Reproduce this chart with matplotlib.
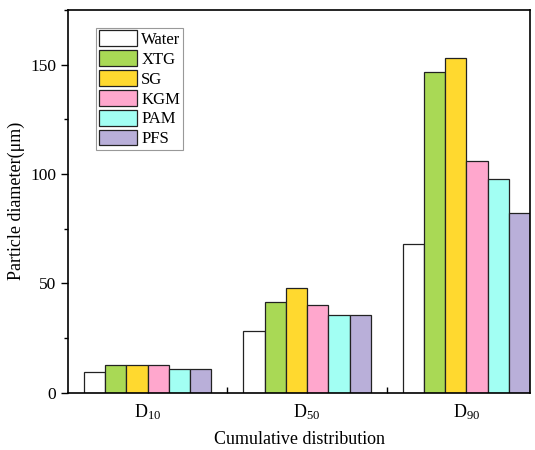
import numpy as np
import matplotlib
matplotlib.use("Agg")
import matplotlib.pyplot as plt
from matplotlib.ticker import MultipleLocator, FixedLocator

plt.rcParams['font.family'] = ['Liberation Serif', 'DejaVu Serif']
plt.rcParams['mathtext.fontset'] = 'custom'
plt.rcParams['mathtext.rm'] = 'Liberation Serif'
plt.rcParams['mathtext.it'] = 'Liberation Serif:italic'

# 粒径累计分布数据
groups = ['D$_{10}$', 'D$_{50}$', 'D$_{90}$']
samples = ['Water', 'XTG', 'SG', 'KGM', 'PAM', 'PFS']
water = [9.6, 28.4, 67.9]
xtg = [12.6, 41.5, 146.8]
sg = [12.6, 47.8, 152.9]
kgm = [12.8, 40.0, 105.9]
pam = [11.0, 35.5, 97.9]
pfs = [10.7, 35.6, 82.4]
colors = ['#FFFFFF', '#A9D955', '#FFD92F', '#FFA7CD', '#A2FFF3', '#B9AFD9']

series = [water, xtg, sg, kgm, pam, pfs]
x = np.arange(len(groups))
w = 0.8 / len(samples)

fig = plt.figure(figsize=(5.35, 4.5), dpi=100)
ax = fig.add_axes([0.127, 0.127, 0.864, 0.851])

for i, (vals, name) in enumerate(zip(series, samples)):
    ax.bar(x - 0.4 + w * (i + 0.5), vals, w, color=colors[i], edgecolor='#222222',
           linewidth=0.9, label=name, zorder=3)

ax.set_xlim(-0.5, 2.4)
ax.set_ylim(0, 175)
ax.set_xticks(x)
ax.set_xticklabels(groups, fontsize=13)
ax.xaxis.set_minor_locator(FixedLocator([0.5, 1.5]))
ax.tick_params(axis='x', which='both', direction='in', length=4, width=1, pad=7)
ax.yaxis.set_major_locator(MultipleLocator(50))
ax.yaxis.set_minor_locator(MultipleLocator(25))
ax.tick_params(axis='y', which='major', direction='out', length=5, width=1, labelsize=12.5)
ax.tick_params(axis='y', which='minor', direction='out', length=3, width=1)
for s in ax.spines.values():
    s.set_linewidth(1.2)
    s.set_zorder(4)

ax.set_xlabel('Cumulative distribution', fontsize=13, labelpad=6)
ax.set_ylabel('Particle diameter(μm)', fontsize=13, labelpad=4)

leg = ax.legend(loc='upper left', bbox_to_anchor=(0.061, 0.953), fontsize=12,
                handlelength=2.3, handleheight=1.05, handletextpad=0.25,
                labelspacing=0.15, borderpad=0.15, borderaxespad=0,
                fancybox=False, edgecolor='#999999', framealpha=1)
leg.get_frame().set_linewidth(0.8)

fig.savefig('out.png', dpi=100)
